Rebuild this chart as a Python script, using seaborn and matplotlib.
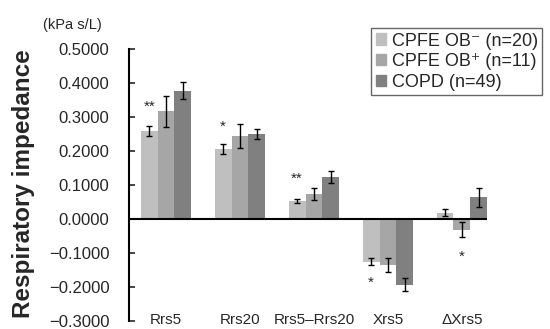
import pandas as pd
import matplotlib
matplotlib.use("Agg")
import matplotlib.pyplot as plt
import matplotlib.patches as mpatches
from matplotlib.ticker import FuncFormatter
import seaborn as sns

# --- data (kPa s/L) ---
measures = ["Rrs5", "Rrs20", "Rrs5\u2013Rrs20", "Xrs5", "\u0394Xrs5"]
groups = ["CPFE OB\u207b (n=20)", "CPFE OB\u207a (n=11)", "COPD (n=49)"]
cpfe_neg = [0.259, 0.206, 0.052, -0.125, 0.019]
cpfe_pos = [0.317, 0.244, 0.073, -0.135, -0.031]
copd = [0.378, 0.250, 0.124, -0.193, 0.064]
cpfe_neg_err = [0.016, 0.016, 0.006, 0.011, 0.010]
cpfe_pos_err = [0.045, 0.035, 0.018, 0.021, 0.022]
copd_err = [0.024, 0.015, 0.018, 0.019, 0.028]
colors = ["#bfbfbf", "#a6a6a6", "#808080"]

# significance marks: (measure index, group index, label, y position)
stars = [(0, 0, "**", 0.331), (1, 0, "*", 0.270), (2, 0, "**", 0.119),
         (3, 0, "*", -0.186), (4, 1, "*", -0.110)]

df = pd.DataFrame({
    "measure": measures * 3,
    "group": [groups[0]] * 5 + [groups[1]] * 5 + [groups[2]] * 5,
    "value": cpfe_neg + cpfe_pos + copd,
})
vals = [cpfe_neg, cpfe_pos, copd]
errs = [cpfe_neg_err, cpfe_pos_err, copd_err]

sns.set_style("white")
plt.rcParams["font.family"] = ["Liberation Sans", "DejaVu Sans"]

fig = plt.figure(figsize=(5.5, 3.29), dpi=100)
ax = fig.add_axes([0.2345, 0.024, 0.651, 0.827])

sns.barplot(data=df, x="measure", y="value", hue="group", order=measures,
            hue_order=groups, palette=colors, width=0.68, errorbar=None,
            legend=False, ax=ax, linewidth=0, saturation=1)
bar_conts = list(ax.containers)

# error bars at the centres of the drawn bars
for j, cont in enumerate(bar_conts):
    for i, bar in enumerate(cont):
        xc = bar.get_x() + bar.get_width() / 2
        ax.errorbar(xc, vals[j][i], yerr=errs[j][i], color="black", elinewidth=1,
                    capsize=2.3, capthick=1, zorder=5)

for mi, gi, lab, yy in stars:
    bar = bar_conts[gi][mi]
    xc = bar.get_x() + bar.get_width() / 2
    ax.text(xc, yy, lab, ha="center", va="center", fontsize=11)

ax.set_xlim(-0.5, 4.34)
ax.set_ylim(-0.3, 0.5)
ax.set_yticks([-0.3, -0.2, -0.1, 0.0, 0.1, 0.2, 0.3, 0.4, 0.5])
ax.yaxis.set_major_formatter(FuncFormatter(lambda v, p: f"{v:.4f}".replace("-", "\u2212")))
ax.axhline(0, color="black", lw=1.5, zorder=4)

for s in ["top", "right", "bottom"]:
    ax.spines[s].set_visible(False)
ax.spines["left"].set_color("black")
ax.spines["left"].set_linewidth(1.5)
ax.tick_params(axis="y", direction="in", length=4, width=1.2, left=True,
               labelsize=12, pad=14)
ax.tick_params(axis="x", length=0, pad=-6, labelsize=11)
ax.set_xlabel("")
ax.set_ylabel("")

fig.text(0.042, 0.442, "Respiratory impedance", rotation=90, ha="center",
         va="center", fontsize=17.5, fontweight="bold")
fig.text(0.131, 0.924, "(kPa s/L)", ha="center", va="center", fontsize=10.5)

handles = [mpatches.Patch(color=c, label=g) for c, g in zip(colors, groups)]
leg = fig.legend(handles=handles, loc="upper left",
                 bbox_to_anchor=(371 / 550, 1 - 28 / 329), fontsize=13,
                 frameon=True, fancybox=False, handlelength=0.6,
                 handleheight=0.6, handletextpad=0.3, labelspacing=0.2,
                 borderpad=0.25, borderaxespad=0)
leg.get_frame().set_edgecolor("#404040")
leg.get_frame().set_linewidth(1)

fig.savefig("out.png", dpi=100)
